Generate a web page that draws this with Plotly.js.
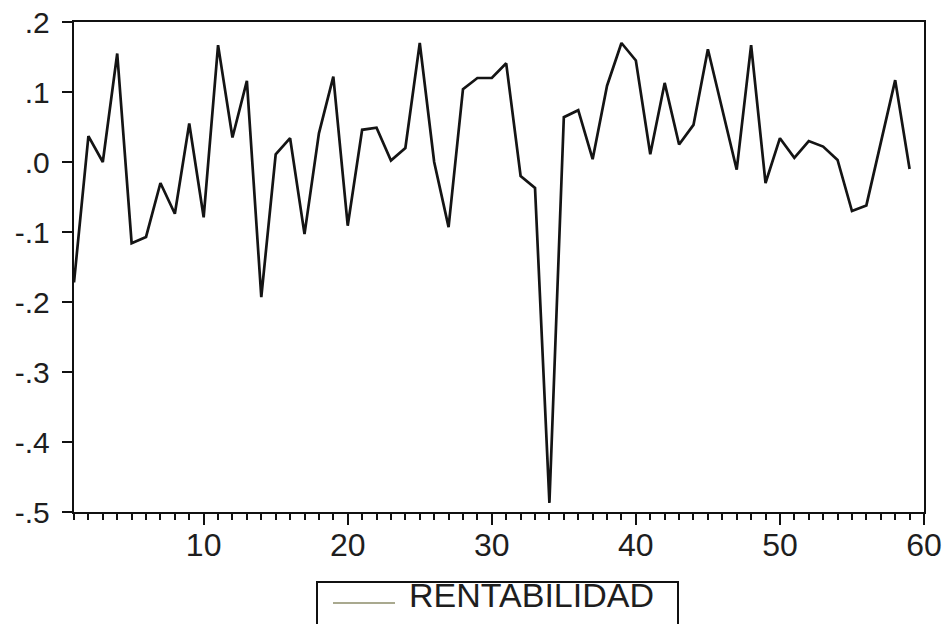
<!DOCTYPE html>
<html>
<head>
<meta charset="utf-8">
<script src="https://cdn.plot.ly/plotly-3.0.1.min.js"></script>
<style>
html,body{margin:0;padding:0;background:#fff;overflow:hidden;}
#chart{width:947px;height:624px;}
</style>
</head>
<body>
<div id="chart"></div>
<script>
// Observation index
const obs = [];
for (let i = 1; i <= 59; i++) obs.push(i);

// Series values
const rentabilidad = [
  -0.172, 0.037, 0.000, 0.155, -0.116, -0.107, -0.030, -0.074, 0.055, -0.079,
   0.167, 0.035, 0.116, -0.193, 0.011, 0.034, -0.103, 0.041, 0.122, -0.091,
   0.046, 0.049, 0.002, 0.020, 0.170, 0.000, -0.093, 0.104, 0.120, 0.120,
   0.141, -0.020, -0.037, -0.487, 0.064, 0.074, 0.004, 0.109, 0.170, 0.145,
   0.011, 0.113, 0.025, 0.053, 0.161, 0.075, -0.011, 0.167, -0.030, 0.034,
   0.006, 0.030, 0.022, 0.003, -0.070, -0.062, 0.027, 0.117, -0.010
];

const seriesName = "RENTABILIDAD";

// Tick labels
const yTickVals = [0.2, 0.1, 0.0, -0.1, -0.2, -0.3, -0.4, -0.5];
const yTickText = [".2", ".1", ".0", "-.1", "-.2", "-.3", "-.4", "-.5"];
const xTickVals = [10, 20, 30, 40, 50, 60];
const xTickText = ["10", "20", "30", "40", "50", "60"];

const FONT = "Liberation Sans, Arial, sans-serif";

const traces = [{
  x: obs,
  y: rentabilidad,
  type: "scatter",
  mode: "lines",
  name: seriesName,
  showlegend: false,
  line: {color: "#141414", width: 2.7},
  hoverinfo: "x+y"
}];

// plot area in pixels: left 74, right 924, top 22, bottom 512
const L = 74, R = 924, T = 22, B = 512;
const W = 947, H = 624;
function px(x){ return (x - L) / (R - L); }
function py(y){ return (B - y) / (B - T); }

const layout = {
  width: W, height: H,
  margin: {l: L, r: W - R, t: T, b: H - B, pad: 0},
  paper_bgcolor: "#ffffff",
  plot_bgcolor: "#ffffff",
  showlegend: false,
  font: {family: FONT, color: "#1e1e1e"},
  xaxis: {
    range: [1, 60],
    showgrid: false, zeroline: false,
    showline: true, linecolor: "#111", linewidth: 2.2, mirror: true,
    tickmode: "array", tickvals: xTickVals, ticktext: xTickText,
    ticks: "outside", ticklen: 11, tickwidth: 2, tickcolor: "#111",
    ticklabelstandoff: -8,
    tickfont: {family: FONT, size: 32, color: "#1e1e1e"},
    minor: {dtick: 1, tick0: 0, ticks: "outside", ticklen: 6, tickwidth: 2, tickcolor: "#111", showgrid: false},
    fixedrange: true
  },
  yaxis: {
    range: [-0.5, 0.2],
    showgrid: false, zeroline: false,
    showline: true, linecolor: "#111", linewidth: 2.2, mirror: true,
    tickmode: "array", tickvals: yTickVals, ticktext: yTickText,
    ticks: "outside", ticklen: 10, tickwidth: 2, tickcolor: "#111",
    ticklabelstandoff: 6,
    tickfont: {family: FONT, size: 30, color: "#1e1e1e"},
    fixedrange: true
  },
  shapes: [
    {type: "rect", xref: "paper", yref: "paper",
     x0: px(317), x1: px(678), y0: py(582), y1: py(650),
     line: {color: "#111", width: 2}, fillcolor: "rgba(0,0,0,0)"},
    {type: "line", xref: "paper", yref: "paper",
     x0: px(333), x1: px(395), y0: py(603), y1: py(603),
     line: {color: "#8c8c6a", width: 1.5}}
  ],
  annotations: [
    {xref: "paper", yref: "paper", x: px(407), y: py(595),
     xanchor: "left", yanchor: "middle", showarrow: false,
     text: seriesName,
     font: {family: FONT, size: 34, color: "#1e1e1e"}}
  ]
};

Plotly.newPlot("chart", traces, layout, {displayModeBar: false, staticPlot: true});
</script>
</body>
</html>
